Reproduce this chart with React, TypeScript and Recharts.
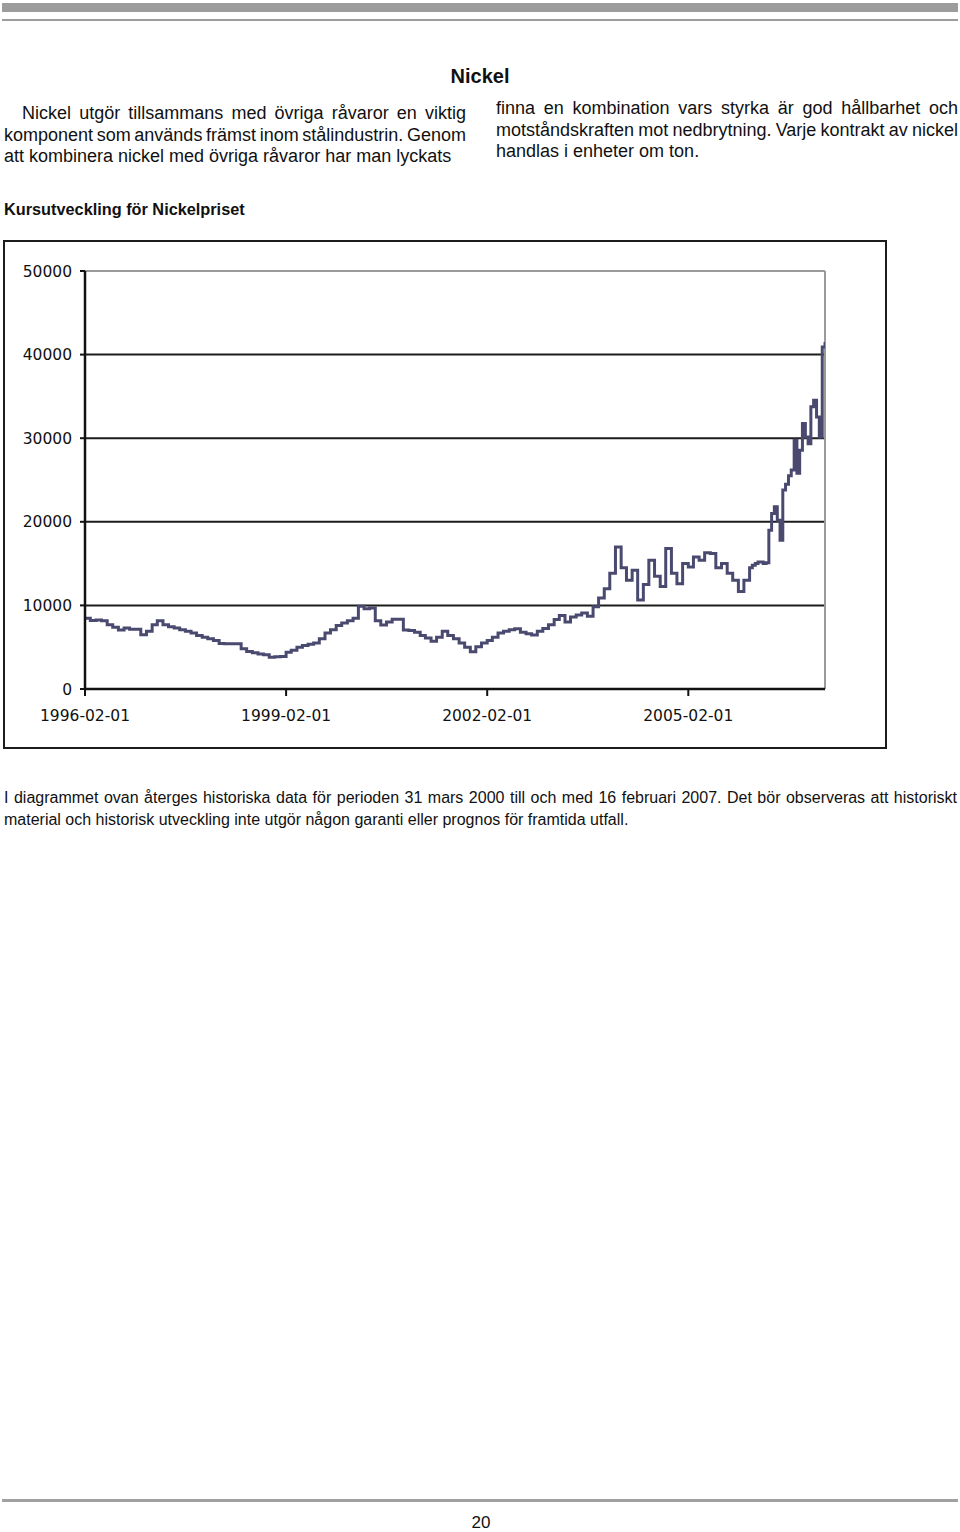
import React from "react";
import {
  LineChart,
  Line,
  XAxis,
  YAxis,
  CartesianGrid,
  ReferenceLine,
} from "recharts";

const FONT = '"Liberation Sans", Arial, Helvetica, sans-serif';
const TICK_FONT = '"DejaVu Sans", Verdana, sans-serif';

// Nickel price, USD/ton, one reading per month (1st of month). 1996 starts in February.
const prices1996 = [8450, 8200, 8250, 8150, 7700, 7400, 7050, 7300, 7150, 7150, 6500];
const prices1997 = [6900, 7700, 8150, 7700, 7450, 7300, 7100, 6900, 6700, 6400, 6200, 6000];
const prices1998 = [5800, 5450, 5400, 5400, 5400, 4800, 4500, 4350, 4200, 4100, 3800, 3850];
const prices1999 = [3900, 4400, 4650, 5000, 5200, 5350, 5500, 6000, 6700, 7100, 7600, 7900];
const prices2000 = [8150, 8450, 9900, 9600, 9700, 8150, 7650, 8000, 8350, 8350, 7050, 7000];
const prices2001 = [6800, 6400, 6100, 5700, 6200, 6900, 6400, 6000, 5500, 5000, 4450, 5050];
const prices2002 = [5500, 5800, 6200, 6700, 6900, 7100, 7200, 6800, 6600, 6450, 6900, 7250];
const prices2003 = [7700, 8300, 8800, 8000, 8600, 8850, 9100, 8700, 9850, 10900, 12000, 13850];
const prices2004 = [17000, 14500, 13000, 14200, 10650, 12500, 15400, 13500, 12250, 16800, 13850, 12600];
const prices2005 = [15000, 14600, 15800, 15400, 16300, 16200, 14500, 15000, 13850, 13000, 11650, 13000];

// From 2006 the price jumps around a lot, so two readings a month (1st and 16th).
const prices2006 = [
  14500, 14800, 15000, 15200, 15200, 15000, 15100, 19000, 21000, 21800, 20200, 17800,
  23800, 24500, 25500, 26200, 29750, 25800, 28550, 31750, 30150, 29350, 33750, 34550,
];
const prices2007 = [32550, 30150, 40900, 41500];

const yTicks = [0, 10000, 20000, 30000, 40000, 50000];
const gridValues = [10000, 20000, 30000, 40000];
const xTickLabels = ["1996-02-01", "1999-02-01", "2002-02-01", "2005-02-01"];
const startDate = "1996-02-01";
const endDate = "2007-02-16";

const monthlyYears: [number, number, number[]][] = [
  [1996, 1, prices1996],
  [1997, 0, prices1997],
  [1998, 0, prices1998],
  [1999, 0, prices1999],
  [2000, 0, prices2000],
  [2001, 0, prices2001],
  [2002, 0, prices2002],
  [2003, 0, prices2003],
  [2004, 0, prices2004],
  [2005, 0, prices2005],
];
const halfMonthlyYears: [number, number[]][] = [
  [2006, prices2006],
  [2007, prices2007],
];

const data: { t: number; price: number }[] = [];
monthlyYears.forEach(([year, first, prices]) =>
  prices.forEach((price, i) => data.push({ t: Date.UTC(year, first + i, 1), price }))
);
halfMonthlyYears.forEach(([year, prices]) =>
  prices.forEach((price, i) =>
    data.push({ t: Date.UTC(year, Math.floor(i / 2), i % 2 ? 16 : 1), price })
  )
);

const xDomain = [Date.parse(startDate), Date.parse(endDate)];
const xTicks = xTickLabels.map((d) => Date.parse(d));
const fmtDate = (t: number) => new Date(t).toISOString().slice(0, 10);

const leftLines = [
  "Nickel utgör tillsammans med övriga råvaror en viktig",
  "komponent som används främst inom stålindustrin. Genom",
  "att kombinera nickel med övriga råvaror har man lyckats",
];
const rightLines = [
  "finna en kombination vars styrka är god hållbarhet och",
  "motståndskraften mot nedbrytning. Varje kontrakt av nickel",
  "handlas i enheter om ton.",
];
const noteLines = [
  "I diagrammet ovan återges historiska data för perioden 31 mars 2000 till och med 16 februari 2007. Det bör observeras att historiskt",
  "material och historisk utveckling inte utgör någon garanti eller prognos för framtida utfall.",
];

const Para: React.FC<{
  lines: string[];
  left: number;
  top: number;
  width: number;
  size: number;
  spacing: number;
  indent?: number;
}> = ({ lines, left, top, width, size, spacing, indent = 0 }) => (
  <div
    style={{
      position: "absolute",
      left,
      top,
      width,
      fontFamily: FONT,
      fontSize: size,
      lineHeight: "21.7px",
      color: "#111",
    }}
  >
    {lines.map((line, i) => {
      const last = i === lines.length - 1;
      return (
        <div
          key={i}
          style={{
            textAlign: last ? "left" : "justify",
            textAlignLast: last ? "left" : "justify",
            wordSpacing: last ? 0 : spacing,
            textIndent: i === 0 ? indent : 0,
          }}
        >
          {line}
        </div>
      );
    })}
  </div>
);

const tickStyle = { fontFamily: TICK_FONT, fontSize: 15.5, fill: "#111" };

export default function App() {
  return (
    <div
      style={{
        position: "absolute",
        left: 0,
        top: 0,
        width: 960,
        height: 1532,
        background: "#fff",
        overflow: "hidden",
      }}
    >
      <div style={{ position: "absolute", left: 2, top: 3, width: 956, height: 9, background: "#9c9c9c" }} />
      <div style={{ position: "absolute", left: 2, top: 19, width: 956, height: 2, background: "#9c9c9c" }} />

      <div
        style={{
          position: "absolute",
          left: 0,
          top: 64,
          width: 960,
          textAlign: "center",
          fontFamily: FONT,
          fontWeight: "bold",
          fontSize: 20,
          lineHeight: "24px",
          color: "#111",
        }}
      >
        Nickel
      </div>

      <Para lines={leftLines} left={4} top={103} width={462} size={18} spacing={-3} indent={18} />
      <Para lines={rightLines} left={496} top={98} width={462} size={18} spacing={-3} />

      <div
        style={{
          position: "absolute",
          left: 4,
          top: 199,
          fontFamily: FONT,
          fontWeight: "bold",
          fontSize: 16.3,
          lineHeight: "20px",
          color: "#111",
        }}
      >
        Kursutveckling för Nickelpriset
      </div>

      <div
        style={{
          position: "absolute",
          left: 3,
          top: 240,
          width: 884,
          height: 509,
          border: "2px solid #1c1c1c",
          boxSizing: "border-box",
        }}
      />

      <div style={{ position: "absolute", left: 0, top: 240 }}>
        <LineChart
          width={900}
          height={510}
          data={data}
          margin={{ top: 31, right: 75, left: 25, bottom: 21 }}
        >
          <CartesianGrid
            vertical={false}
            horizontalValues={gridValues}
            stroke="#1c1c1c"
            strokeWidth={2}
          />
          <ReferenceLine y={50000} stroke="#9a9a9a" strokeWidth={2} />
          <ReferenceLine x={xDomain[1]} stroke="#9a9a9a" strokeWidth={2} />
          <XAxis
            dataKey="t"
            type="number"
            scale="linear"
            domain={xDomain}
            ticks={xTicks}
            tickFormatter={fmtDate}
            height={40}
            tick={tickStyle}
            tickSize={7}
            tickMargin={14}
            axisLine={{ stroke: "#111", strokeWidth: 2.5 }}
            tickLine={{ stroke: "#111", strokeWidth: 2 }}
            allowDataOverflow
          />
          <YAxis
            type="number"
            domain={[0, 50000]}
            ticks={yTicks}
            width={60}
            tick={tickStyle}
            tickSize={5}
            tickMargin={8}
            axisLine={{ stroke: "#111", strokeWidth: 2.5 }}
            tickLine={{ stroke: "#111", strokeWidth: 2 }}
          />
          <Line
            type="stepAfter"
            dataKey="price"
            stroke="#4a4a70"
            strokeWidth={3}
            dot={false}
            isAnimationActive={false}
          />
        </LineChart>
      </div>

      <Para lines={noteLines} left={4} top={787} width={953} size={16} spacing={-1} />

      <div style={{ position: "absolute", left: 2, top: 1499, width: 956, height: 3, background: "#a0a0a0" }} />
      <div
        style={{
          position: "absolute",
          left: 0,
          top: 1513,
          width: 962,
          textAlign: "center",
          fontFamily: FONT,
          fontSize: 17,
          lineHeight: "20px",
          color: "#111",
        }}
      >
        20
      </div>
    </div>
  );
}
